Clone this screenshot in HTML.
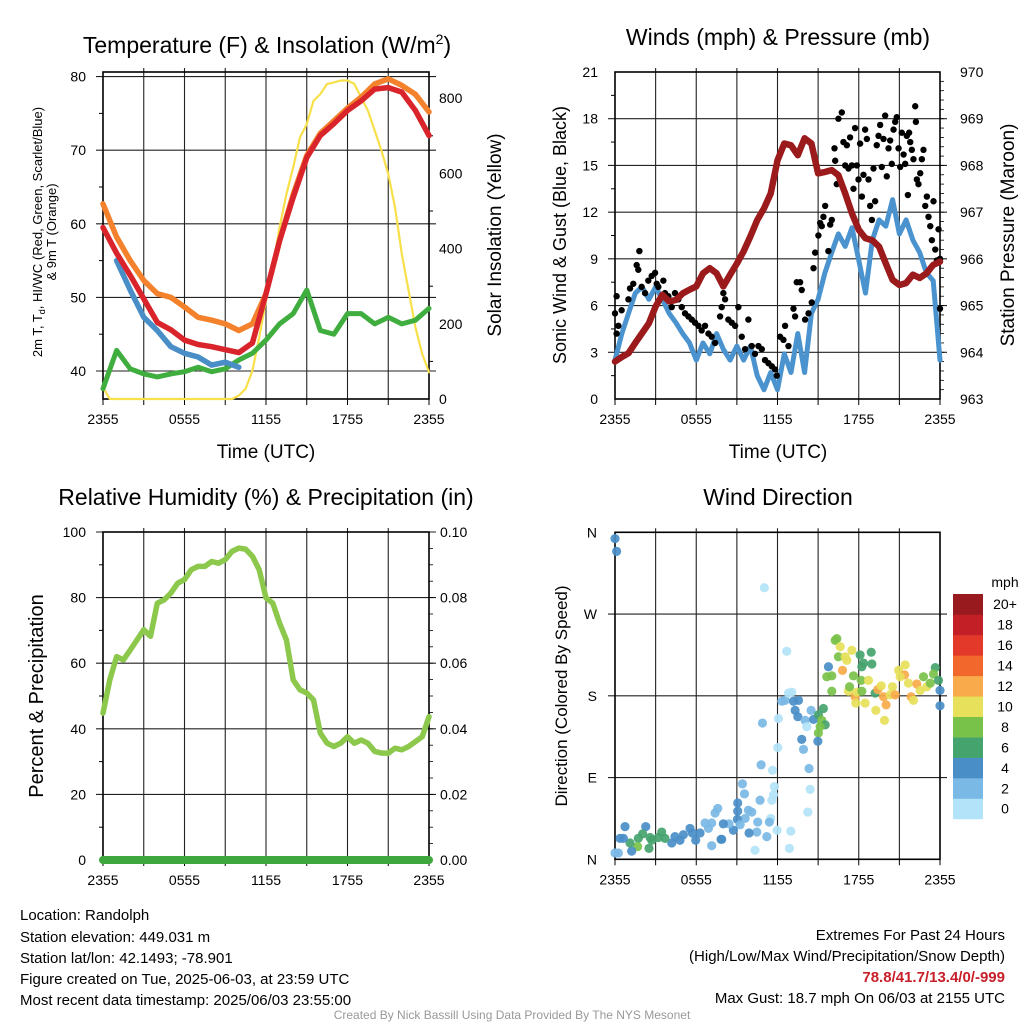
<!DOCTYPE html>
<html><head><meta charset="utf-8">
<style>
html,body{margin:0;padding:0;background:#fff;}
svg{display:block;font-family:"Liberation Sans",Arial,sans-serif;}
</style></head>
<body>
<svg id="chart" width="1024" height="1024" viewBox="0 0 1024 1024" xmlns="http://www.w3.org/2000/svg">
<rect width="1024" height="1024" fill="#fff"/>
<g id="p1"></g>
<g id="p2"></g>
<g id="p3"></g>
<g id="p4"></g>

<text x="267" y="53" font-size="23" text-anchor="middle">Temperature (F) &amp; Insolation (W/m<tspan font-size="14" dy="-9">2</tspan><tspan dy="9">)</tspan></text>
<text x="778" y="45" font-size="23" text-anchor="middle">Winds (mph) &amp; Pressure (mb)</text>
<text x="266" y="505" font-size="23" text-anchor="middle">Relative Humidity (%) &amp; Precipitation (in)</text>
<text x="778" y="505" font-size="23" text-anchor="middle">Wind Direction</text>

<text transform="translate(42,232) rotate(-90)" font-size="13" text-anchor="middle">2m T, T<tspan font-size="9" dy="3">d</tspan><tspan dy="-3">, HI/WC (Red, Green, Scarlet/Blue)</tspan></text>
<text transform="translate(56,232) rotate(-90)" font-size="13" text-anchor="middle">&amp; 9m T (Orange)</text>
<text transform="translate(501,235) rotate(-90)" font-size="19" text-anchor="middle">Solar Insolation (Yellow)</text>
<text x="266" y="458" font-size="19" text-anchor="middle">Time (UTC)</text>
<text transform="translate(566,235) rotate(-90)" font-size="18" text-anchor="middle">Sonic Wind &amp; Gust (Blue, Black)</text>
<text transform="translate(1014,235) rotate(-90)" font-size="19" text-anchor="middle">Station Pressure (Maroon)</text>
<text x="778" y="458" font-size="19" text-anchor="middle">Time (UTC)</text>
<text transform="translate(43,696) rotate(-90)" font-size="20" text-anchor="middle">Percent &amp; Precipitation</text>
<text transform="translate(567,696) rotate(-90)" font-size="17" text-anchor="middle">Direction (Colored By Speed)</text>

<g font-size="15">
<text x="20" y="920">Location: Randolph</text>
<text x="20" y="942">Station elevation: 449.031 m</text>
<text x="20" y="963">Station lat/lon: 42.1493; -78.901</text>
<text x="20" y="984">Figure created on Tue, 2025-06-03, at 23:59 UTC</text>
<text x="20" y="1005">Most recent data timestamp: 2025/06/03 23:55:00</text>
</g>
<g font-size="15" text-anchor="end">
<text x="1005" y="940">Extremes For Past 24 Hours</text>
<text x="1005" y="961">(High/Low/Max Wind/Precipitation/Snow Depth)</text>
<text x="1005" y="982" fill="#c8202a" font-weight="bold">78.8/41.7/13.4/0/-999</text>
<text x="1005" y="1003">Max Gust: 18.7 mph On 06/03 at 2155 UTC</text>
</g>
<text x="512" y="1019" font-size="12" fill="#999" text-anchor="middle">Created By Nick Bassill Using Data Provided By The NYS Mesonet</text>
</svg>
<script>
// ---------- data ----------
const timeLabels = ["2355","0555","1155","1755","2355"];
const tempTicks = [40,50,60,70,80];
const insolTicks = [0,200,400,600,800];
const windTicks = [0,3,6,9,12,15,18,21];
const presTicks = [963,964,965,966,967,968,969,970];
const rhTicks = [0,20,40,60,80,100];
const precipTickLabels = ["0.00","0.02","0.04","0.06","0.08","0.10"];
const dirTicks = [0,90,180,270,360];
const dirTickLabels = ["N","E","S","W","N"];
const speedBins = ["0","2","4","6","8","10","12","14","16","18","20+"];
const speedColors = ["#b3e3f8","#7ab9e5","#4a8ec8","#45a36e","#79c24a","#e6e05a","#f9aa4a","#f2682c","#e3392b","#c31f27","#981a1e"];

const tempRed = [59.5,56,53,49.8,46.6,45.6,44.2,43.6,43.3,42.9,42.5,43.8,50.5,57.7,63.6,69,72,73.6,75.4,76.7,78.3,78.5,77.9,75.4,72];
const tempOrange = [62.7,58.2,55,52.3,50.5,50,48.7,47.3,46.9,46.4,45.5,46.4,50.5,57.7,64,69.3,72.3,74,75.7,77.2,79,79.7,78.8,77.6,75.2];
const tempBlue = [null,55,51,47.3,45.5,43.3,42.4,41.9,40.8,41.2,40.5,null,null,null,null,null,null,null,null,null,null,null,null,null,null];
const tempGreen = [37.6,42.8,40.3,39.6,39.2,39.6,39.9,40.5,39.9,40.3,41.5,42.4,44.2,46.4,47.8,51,45.5,45,47.8,47.8,46.4,47.3,46.4,46.9,48.5];
const insolation = [31,0,0,0,0,0,0,0,0,0,0,0,0,0,0,0,0,0,0,0,9,27,75,164,262,350,457,545,616,696,731,793,811,838,842,847,847,838,802,767,714,660,598,510,386,288,191,120,71];
const windSpeed = [2.5,4.2,5.5,6.8,7.2,6.4,7.2,6.4,5.5,4.9,4.2,3.6,2.5,3.6,2.9,4.2,3.2,2.5,3.4,2.5,3.4,1.5,0.6,1.7,0.6,2.9,1.7,4.2,1.7,5.5,6.4,8.1,9.4,10.6,9.8,11,8.9,6.8,10.2,11.5,11.1,12.8,10.6,11.5,10.2,9.4,8.1,7.6,2.5];
const pressure = [963.8,963.9,963.98,964.2,964.41,964.62,964.98,965.23,965.09,965.12,965.26,965.34,965.41,965.69,965.8,965.69,965.41,965.66,965.9,966.16,966.48,966.83,967.08,967.4,968.11,968.47,968.43,968.22,968.58,968.47,967.83,967.86,967.9,967.79,967.4,966.97,966.62,966.44,966.4,966.26,965.9,965.55,965.44,965.48,965.66,965.59,965.69,965.87,965.94];
const gustHours = [0,0.12,0.12,0.25,0.49,0.99,1.11,1.35,1.6,1.72,1.8,1.97,2.22,2.46,2.71,2.96,3.08,3.2,3.57,3.69,3.94,4.19,4.43,4.68,4.93,5.17,5.42,5.67,5.91,6.16,6.4,6.65,6.9,7.14,7.39,7.76,7.88,8.0,8.13,8.37,8.62,8.87,9.11,9.36,9.61,9.85,10.1,10.34,10.59,10.84,11.08,11.33,11.58,11.82,11.95,12.19,12.44,12.56,12.81,13.18,13.3,13.42,13.67,13.79,14.04,14.29,14.53,14.66,14.78,15.02,15.15,15.27,15.39,15.52,15.76,15.89,16.01,16.21,16.26,16.38,16.5,16.75,16.87,17.0,17.12,17.24,17.36,17.49,17.61,17.73,17.86,17.98,18.1,18.23,18.35,18.47,18.6,18.72,18.84,18.97,19.09,19.21,19.33,19.46,19.58,19.7,19.83,19.95,20.07,20.2,20.32,20.44,20.57,20.69,20.81,20.94,21.06,21.18,21.31,21.43,21.55,21.63,21.72,21.8,21.92,22.04,22.17,22.22,22.29,22.41,22.54,22.66,22.78,22.91,23.03,23.15,23.28,23.4,23.52,23.65,23.77,23.89,24.0,24.0];
const gustSpeeds = [5.5,6.6,4.2,4.7,5.7,6.4,7.1,7.4,8.6,8.3,9.5,7.2,6.8,7.6,7.9,8.1,7.4,7.2,7.6,6.8,6.6,5.9,6.8,6.4,5.9,5.5,5.3,5.1,4.9,4.7,4.4,4.7,4.2,4.0,3.6,5.3,5.9,6.8,6.4,5.1,4.9,4.7,5.9,4.0,3.2,5.1,3.4,2.9,3.4,3.2,2.5,2.3,2.1,1.9,1.5,4.0,3.8,4.7,3.4,5.8,5.3,7.5,7.5,7.0,5.1,5.5,6.2,8.4,9.4,10.5,11.3,11.1,11.7,12.4,9.5,11.2,11.5,16.1,15.3,13.8,18.0,18.4,16.5,15.0,16.3,14.8,16.8,15.0,13.5,17.4,15.0,14.1,16.4,13.0,14.4,17.3,16.7,14.1,12.4,11.5,14.8,12.7,16.3,16.9,17.6,14.9,16.7,18.2,14.3,16.1,16.6,15.1,17.3,17.8,18.1,16.1,14.9,17.1,15.7,15.1,16.9,13.1,17.1,16.5,16.0,15.4,18.8,17.8,14.1,13.8,14.5,15.4,16.0,12.4,13.0,11.7,11.1,10.2,12.7,9.6,8.9,10.9,9.0,5.8];
const humidity = [44.8,54.9,62,61,64,67.1,70.2,68.2,78.3,79.3,81.4,84.4,85.5,88.5,89.5,89.5,91,90.5,91.6,94.1,95.1,94.8,92.6,88.5,79.9,78.3,72.2,67.1,54.9,51.9,50.9,48.8,38.7,35.6,34.6,35.6,37.6,35.6,36.6,35.6,33.1,32.6,32.6,34.1,33.6,34.6,36.1,37.6,43.7];
const precipitation = [0,0,0,0,0,0,0,0,0,0,0,0,0,0,0,0,0,0,0,0,0,0,0,0,0];
const dirHours = [0,0.12,11.03,12.68,16.26,16.38,16.63,16.5,17.0,17.12,17.49,18.1,18.92,18.97,18.35,18.23,17.61,15.76,15.64,16.01,16.8,18.18,18.72,16.01,17.24,17.32,17.73,17.86,17.78,18.47,18.23,19.21,19.41,19.66,19.83,20.02,19.26,19.9,20.32,20.49,20.69,20.94,21.43,21.38,21.06,21.67,21.87,22.04,22.29,22.54,22.78,23.03,23.28,23.65,23.52,23.89,24.0,24.0,12.32,12.56,12.81,13.05,13.18,13.55,13.3,13.5,14.04,14.16,14.48,14.66,15.02,15.27,15.52,15.39,15.15,15.02,14.98,13.79,13.92,14.33,14.41,14.24,10.89,12.07,12.02,10.79,11.63,11.77,11.7,11.58,11.5,11.4,11.97,12.98,12.88,10.34,11.21,10.71,10.54,10.47,9.9,9.85,10.1,9.61,9.06,9.06,9.04,9.41,9.56,9.24,8.74,8.42,8.0,7.83,7.59,7.39,7.14,6.9,6.65,6.28,5.96,5.71,5.54,5.05,4.8,4.43,4.19,3.69,3.45,3.2,2.71,2.59,2.27,2.04,1.72,1.67,1.23,1.11,0.74,0.62,0.37,0.25,0,2.51,7.14,7.88];
const dirDegrees = [353,339,299,229,241,243,234,223,223,219,230,225,228,215,216,212,202,212,201,202,208,197,197,185,185,190,179,184,172,172,185,183,187,191,179,170,164,153,181,190,181,208,214,203,201,194,179,175,193,186,201,190,194,211,204,197,186,169,174,175,183,184,174,175,164,157,153,146,164,154,159,153,148,166,146,139,130,132,121,100,77,52,150,155,123,104,98,80,71,65,45,41,32,31,12,10,25,65,41,30,29,54,52,45,62,53,44,83,72,38,32,39,39,22,56,51,40,34,40,29,21,29,34,27,21,25,18,23,30,24,21,24,36,28,23,14,9,18,36,23,23,7,7,12,15,22];
const dirSpeeds = [5,5,1,1,9,9,11,9,11,11,11,7,7,7,7,7,9,5,9,9,13,9,11,9,11,9,13,11,11,11,9,7,13,11,13,13,11,11,11,11,13,11,11,13,11,11,13,11,13,11,9,11,9,7,9,7,5,5,3,3,1,1,5,5,5,5,3,1,3,5,7,9,7,7,9,9,5,5,3,3,1,1,3,1,1,3,1,1,1,1,1,3,1,1,1,1,3,3,3,3,5,3,3,3,5,5,5,3,3,3,5,3,5,5,3,3,3,3,3,5,5,5,5,5,5,5,5,7,7,7,7,7,5,7,7,9,5,7,5,5,5,3,3,7,3,5];

// ---------- helpers ----------
const NS = "http://www.w3.org/2000/svg";
function mk(tag, attrs, parent){
  const e = document.createElementNS(NS, tag);
  for (const k in attrs) e.setAttribute(k, attrs[k]);
  if (parent) parent.appendChild(e);
  return e;
}
function linearScale(d0,d1,r0,r1){ return v => r0 + (v-d0)*(r1-r0)/(d1-d0); }
function pathFrom(xs, ys){
  let d = "", pen = false;
  for (let i=0;i<xs.length;i++){
    if (ys[i]===null || ys[i]===undefined){ pen=false; continue; }
    d += (pen ? "L" : "M") + xs[i].toFixed(1) + " " + ys[i].toFixed(1);
    pen = true;
  }
  return d;
}

function frame(g, L, R, T, B, hx, hLines, yMinorTicks){
  for (let h=3; h<24; h+=3){
    const ln = mk("line",{x1:hx(h),x2:hx(h),y1:T-4,y2:B,stroke:"#222","stroke-width":1.1},g);
    
    
  }
  for (let h=0; h<=24; h+=3){
    const tk = mk("line",{x1:hx(h),x2:hx(h),y1:B,y2:B+6,stroke:"#000","stroke-width":1},g);
    
    
  }
  hLines.forEach(y=>{
    const ln = mk("line",{x1:L-7,x2:R+7,y1:y,y2:y,stroke:"#222","stroke-width":1.1},g);
    
    
  });
  (yMinorTicks||[]).forEach(y=>{
    const t1 = mk("line",{x1:L-4,x2:L,y1:y,y2:y,stroke:"#000","stroke-width":1},g);
    
    
  });
  const box = mk("rect",{x:L,y:T,width:R-L,height:B-T,fill:"none",stroke:"#000","stroke-width":1.6},g);
  
  
  timeLabels.forEach((s,i)=>{
    const t = mk("text",{x:hx(i*6),y:B+25,"font-size":14,"text-anchor":"middle"},g);
    t.textContent = s;
    
    
  });
}
function yLabels(g, vals, labels, sy, x, anchor, name){
  vals.forEach((v,i)=>{
    const t = mk("text",{x:x,y:sy(v)+5,"font-size":14,"text-anchor":anchor},g);
    t.textContent = labels ? labels[i] : String(v);
    
    
  });
}
function series(g, xs, ys, color, w, name){
  const p = mk("path",{d:pathFrom(xs,ys),fill:"none",stroke:color,"stroke-width":w,"stroke-linejoin":"round","stroke-linecap":"round"},g);
  
  
  return p;
}

// ---------- panel 1: temperature ----------
(function(){
  const g = document.getElementById('p1');
  const L=103,R=429,T=72,B=399;
  const hx = linearScale(0,24,L,R);
  const ty = linearScale(40,80,371,76.6);
  const iy = linearScale(0,800,399,98.2);
  frame(g,L,R,T,B,hx,tempTicks.map(ty),[45,55,65,75].map(ty));
  [100,300,500,700].forEach(v=>{
    const t = mk("line",{x1:R,x2:R+4,y1:iy(v),y2:iy(v),stroke:"#000"},g);
    
    
  });
  yLabels(g,tempTicks,null,ty,86,"end","temp-tick-label");
  yLabels(g,insolTicks,null,iy,439,"start","insolation-tick-label");
  const hH = tempRed.map((_,i)=>hx(i));
  const hHalf = insolation.map((_,i)=>hx(i/2));
  series(g,hHalf,insolation.map(iy),"#f7e04a",2.2,"insolation-line");
  series(g,hH,tempGreen.map(ty),"#3fae3f",5,"dewpoint-line");
  series(g,hH,tempOrange.map(ty),"#f4812b",5.5,"temp-9m-line");
  series(g,hH,tempBlue.map(v=>v===null?null:ty(v)),"#4a8ec8",5.5,"windchill-line");
  series(g,hH,tempRed.map(ty),"#d9242b",5.5,"temp-2m-line");
})();

// ---------- panel 2: winds ----------
(function(){
  const g = document.getElementById('p2');
  const L=615,R=940,T=72,B=399;
  const hx = linearScale(0,24,L,R);
  const wy = linearScale(0,21,B,T);
  const py = linearScale(963,970,B,T);
  frame(g,L,R,T,B,hx,windTicks.slice(1,-1).map(wy),[1.5,4.5,7.5,10.5,13.5,16.5,19.5].map(wy));
  for (let p=963.2;p<970;p+=0.2){
    const t = mk("line",{x1:R,x2:R+4,y1:py(p),y2:py(p),stroke:"#000","stroke-width":0.8},g);
    
    
  }
  yLabels(g,windTicks,null,wy,598,"end","wind-tick-label");
  yLabels(g,presTicks,null,py,960,"start","pressure-tick-label");
  const hHalf = windSpeed.map((_,i)=>hx(i/2));
  series(g,hHalf,windSpeed.map(wy),"#4a93cf",5,"wind-speed-line");
  gustHours.forEach((h,i)=>{
    const c = mk("circle",{cx:hx(h),cy:wy(gustSpeeds[i]),r:3.2,fill:"#000"},g);
    
    
  });
  series(g,hHalf,pressure.map(py),"#9b1a1c",6.5,"pressure-line");
})();

// ---------- panel 3: humidity ----------
(function(){
  const g = document.getElementById('p3');
  const L=103,R=429,T=532,B=860;
  const hx = linearScale(0,24,L,R);
  const ry = linearScale(0,100,B,T);
  const qy = linearScale(0,0.1,B,T);
  frame(g,L,R,T,B,hx,rhTicks.slice(1).map(ry),[10,30,50,70,90].map(ry));
  for (let v=5; v<100; v+=5){
    const t = mk("line",{x1:R,x2:R+4,y1:ry(v),y2:ry(v),stroke:"#000","stroke-width":0.8},g);
    
    
  }
  yLabels(g,rhTicks,null,ry,86,"end","humidity-tick-label");
  yLabels(g,[0,0.02,0.04,0.06,0.08,0.1],precipTickLabels,qy,440,"start","precip-tick-label");
  series(g,humidity.map((_,i)=>hx(i/2)),humidity.map(ry),"#8cc84b",5.5,"humidity-line");
  series(g,precipitation.map((_,i)=>hx(i)),precipitation.map(qy),"#3ea83e",8,"precipitation-line");
})();

// ---------- panel 4: wind direction ----------
(function(){
  const g = document.getElementById('p4');
  const L=615,R=940,T=532.3,B=859.3;
  const hx = linearScale(0,24,L,R);
  const dy = linearScale(0,360,B,T);
  frame(g,L,R,T,B,hx,dirTicks.slice(1,-1).map(dy),[]);
  dirTicks.forEach((v,i)=>{
    const t = mk("text",{x:597,y:dy(v)+5,"font-size":14,"text-anchor":"end"},g);
    t.textContent = dirTickLabels[i];
    
    
  });
  const binColor = s => speedColors[Math.min(10,Math.floor(s/2))];
  dirHours.forEach((h,i)=>{
    const c = mk("circle",{cx:hx(h),cy:dy(dirDegrees[i]),r:4.6,fill:binColor(dirSpeeds[i]),"fill-opacity":0.92},g);
    
    
  });
  const cb = mk("g",{},g);
  
  
  const top=594, bh=20.45;
  speedBins.forEach((lab,i)=>{
    const y = top + (10-i)*bh;
    const r = mk("rect",{x:953,y:y,width:30,height:bh+0.3,fill:speedColors[i]},cb);
    
    
    const t = mk("text",{x:1005,y:y+bh/2+5,"font-size":14,"text-anchor":"middle"},cb);
    t.textContent = lab;
    
    
  });
  const u = mk("text",{x:1005,y:587,"font-size":14,"text-anchor":"middle"},cb);
  u.textContent = "mph";
  
  
})();
</script>
</body></html>
